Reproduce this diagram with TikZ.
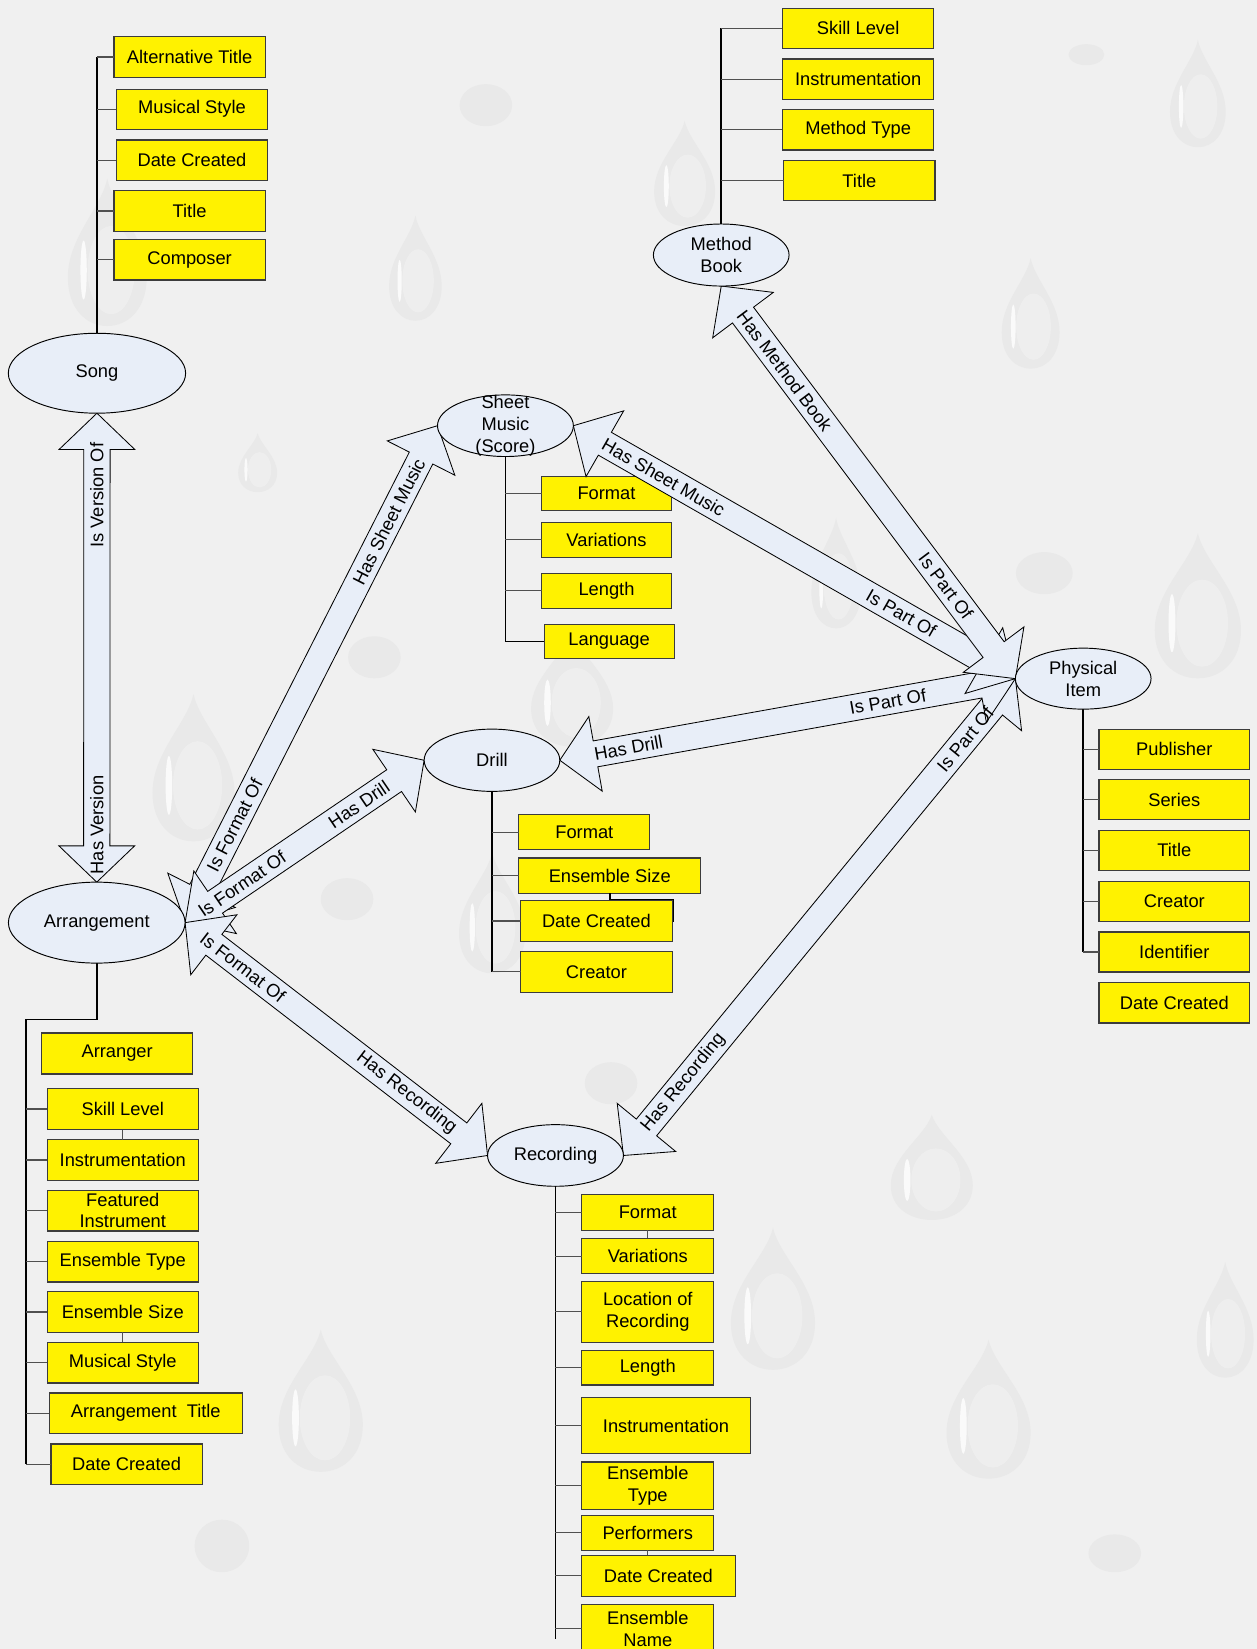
\documentclass[tikz,border=0pt]{standalone}
\usepackage{fontspec}
\setmainfont{Liberation Sans}
\usetikzlibrary{calc,shapes.geometric}
\definecolor{bg}{RGB}{240,240,240}
\definecolor{lblue}{RGB}{232,238,248}
\definecolor{dropc}{RGB}{233,233,233}
\definecolor{boxline}{RGB}{60,60,60}
\definecolor{tickc}{RGB}{80,80,80}
\pgfdeclarelayer{bgl}
\pgfdeclarelayer{back}
\pgfdeclarelayer{mid}
\pgfsetlayers{bgl,back,mid,main}
\tikzset{
  ybox/.style={draw=boxline, line width=1.1pt, fill=yellow, inner sep=0pt, outer sep=0pt, align=center, anchor=north west},
  ell/.style={ellipse, draw=black, line width=0.9pt, fill=lblue, inner sep=0pt, outer sep=0pt},
  trunk/.style={draw=black, line width=1.5pt},
  twig/.style={draw=tickc, line width=1.1pt},
  blockarrow/.style={draw=black, line width=0.8pt, fill=lblue, line join=miter},
  lbl/.style={inner sep=0pt},
  dropfill/.style={fill=dropc},
}
\newcommand\dblarrow[2]{%
  \coordinate (ta) at ($(#1)!34.5pt!(#2)$);
  \coordinate (tb) at ($(#2)!34.5pt!(#1)$);
  \draw[blockarrow] (#1) -- ($(ta)!36pt!90:(#2)$) -- ($(ta)!12.5pt!90:(#2)$)
    -- ($(tb)!12.5pt!-90:(#1)$) -- ($(tb)!36pt!-90:(#1)$) -- (#2)
    -- ($(tb)!36pt!90:(#1)$) -- ($(tb)!12.5pt!90:(#1)$)
    -- ($(ta)!12.5pt!-90:(#2)$) -- ($(ta)!36pt!-90:(#2)$) -- cycle;
}
\newcommand\drop[4]{%
  \begin{scope}[shift={(#1,#2)}, xscale=#3, yscale=#4]
    \fill[dropfill] (0,-0.5) .. controls (0.08,-0.3) and (0.5,-0.1) .. (0.5,0.17)
      .. controls (0.5,0.38) and (0.27,0.5) .. (0,0.5)
      .. controls (-0.27,0.5) and (-0.5,0.38) .. (-0.5,0.17)
      .. controls (-0.5,-0.1) and (-0.08,-0.3) .. (0,-0.5) -- cycle;
    \fill[white, opacity=0.25] (0.05,0.12) ellipse [x radius=0.3, y radius=0.3];
    \fill[white, opacity=0.8] (-0.3,0.12) ellipse [x radius=0.04, y radius=0.2];
  \end{scope}}
\newcommand\blob[4]{\fill[dropfill] (#1,#2) ellipse [x radius=#3, y radius=#4];}
\begin{document}
\begin{tikzpicture}[x=1pt, y=-1pt, font=\fontsize{17.4}{21}\selectfont]
\begin{pgfonlayer}{bgl}
\fill[bg] (0,0) rectangle (1195,1568);
\end{pgfonlayer}
\useasboundingbox (0,0) rectangle (1195,1568);

% ---------- ellipses (main layer) ----------
\node[ell, minimum width=168.6pt, minimum height=76pt, label=center:{Song}] (song) at (92.2,354.9) {};
\node[ell, minimum width=168pt, minimum height=77pt, label=center:{Arrangement}] (arr) at (92,877.3) {};
\node[ell, minimum width=129pt, minimum height=59pt, label={[align=center]center:{Method\\Book}}] (meth) at (685.8,242.5) {};
\node[ell, minimum width=129.2pt, minimum height=58.6pt, label={[align=center]center:{Sheet\\Music\\(Score)}}] (sheet) at (480.6,404.8) {};
\node[ell, minimum width=129pt, minimum height=59.2pt, label=center:{Drill}] (drill) at (467.8,722.9) {};
\node[ell, minimum width=129pt, minimum height=58pt, label={[align=center]center:{Physical\\Item}}] (phys) at (1030,645.3) {};
\node[ell, minimum width=129.2pt, minimum height=58.6pt, label=center:{Recording}] (rec) at (528.2,1098.7) {};

\begin{pgfonlayer}{back}
% ---------- droplets ----------
\drop{651}{165}{58}{100}
\drop{395}{255}{50}{100}
\drop{1139}{89}{53}{102}
\drop{980}{298}{55}{105}
\drop{1139}{576}{82}{138}
\drop{245}{440}{37}{56}
\drop{184}{730}{78}{140}
\drop{544}{655}{78}{110}
\drop{795}{545}{47}{105}
\drop{468}{868}{63}{115}
\drop{886}{1110}{78}{100}
\drop{735}{1235}{80}{135}
\drop{940}{1340}{80}{132}
\drop{305}{1332}{80}{135}
\drop{1165}{1255}{54}{110}
\drop{102}{240}{75}{140}
\blob{462}{100}{25}{20}
\blob{1033}{52}{17}{10}
\blob{993}{545}{27}{20}
\blob{356}{625}{25}{20}
\blob{330}{855}{25}{20}
\blob{581}{1030}{25}{20}
\blob{211}{1470}{26}{25}
\blob{1060}{1477}{25}{18}

% ---------- Song attributes ----------
\node[ybox, minimum width=143.8pt, minimum height=38.6pt] (sAlt) at (108.4,34.9) {Alternative Title};
\node[ybox, minimum width=143.9pt, minimum height=38pt] (sMus) at (110.6,84.9) {Musical Style};
\node[ybox, minimum width=143.9pt, minimum height=38.3pt] (sDate) at (110.6,133.1) {Date Created};
\node[ybox, minimum width=143.8pt, minimum height=38.6pt] (sTitle) at (108.4,181.3) {Title};
\node[ybox, minimum width=143.8pt, minimum height=38.3pt] (sComp) at (108.4,227.9) {Composer};
\draw[trunk] (sAlt.west -| song.north) -- (song.north);
\foreach \n in {sAlt,sMus,sDate,sTitle,sComp} \draw[twig] (\n.west) -- (\n.west -| song.north);

% ---------- Method Book attributes ----------
\node[ybox, minimum width=144pt, minimum height=38pt] (mSkill) at (744,7.9) {Skill Level};
\node[ybox, minimum width=144pt, minimum height=38.3pt] (mInst) at (744,56.1) {Instrumentation};
\node[ybox, minimum width=144pt, minimum height=38.7pt] (mType) at (744,103.9) {Method Type};
\node[ybox, minimum width=143.8pt, minimum height=38.6pt] (mTitle) at (745.3,152.4) {Title};
\draw[trunk] (mSkill.west -| meth.north) -- (meth.north);
\foreach \n in {mSkill,mInst,mType,mTitle} \draw[twig] (\n.west) -- (\n.west -| meth.north);

% ---------- Sheet Music attributes ----------
\node[ybox, minimum width=123.6pt, minimum height=32.6pt] (shFormat) at (514.9,453.1) {Format};
\node[ybox, minimum width=123.6pt, minimum height=33pt] (shVar) at (514.9,496.8) {Variations};
\node[ybox, minimum width=123.6pt, minimum height=33.3pt] (shLen) at (514.9,545) {Length};
\node[ybox, minimum width=123.6pt, minimum height=32.9pt] (shLang) at (517.4,593.5) {Language};
\draw[trunk] (sheet.south) |- (shLang.west);
\foreach \n in {shFormat,shVar,shLen} \draw[twig] (\n.west) -- (\n.west -| sheet.south);

% ---------- Drill attributes ----------
\node[ybox, minimum width=124.6pt, minimum height=33.3pt] (dFormat) at (493.3,774.7) {Format};
\node[ybox, minimum width=173.1pt, minimum height=33.3pt] (dEns) at (493.3,815.9) {Ensemble Size};
\node[ybox, minimum width=144.3pt, minimum height=38.6pt] (dDate) at (495,856.5) {Date Created};
\node[ybox, minimum width=144.3pt, minimum height=39pt] (dCreator) at (495,904.6) {Creator};
\draw[draw=black, line width=1.1pt] (580,849.2) -- (580,855.6) -- (640.8,855.6) -- (640.8,876.5);
\draw[trunk] (drill.south) -- (drill.south |- dCreator.west);
\foreach \n in {dFormat,dEns,dDate,dCreator} \draw[twig] (\n.west) -- (\n.west -| drill.south);

% ---------- Physical Item attributes ----------
\node[ybox, minimum width=143.2pt, minimum height=38pt] (pPub) at (1045,693.3) {Publisher};
\node[ybox, minimum width=143.2pt, minimum height=38pt] (pSeries) at (1045,741.5) {Series};
\node[ybox, minimum width=143.2pt, minimum height=38pt] (pTitle) at (1045,789.6) {Title};
\node[ybox, minimum width=143.2pt, minimum height=38pt] (pCreator) at (1045,838) {Creator};
\node[ybox, minimum width=143.2pt, minimum height=38pt] (pId) at (1045,886.2) {Identifier};
\node[ybox, minimum width=143.2pt, minimum height=38.7pt] (pDate) at (1045,934.1) {Date Created};
\draw[trunk] (phys.south) -- (phys.south |- pId.west);
\foreach \n in {pPub,pSeries,pTitle,pCreator,pId} \draw[twig] (\n.west) -- (\n.west -| phys.south);

% ---------- Arrangement attributes ----------
\node[ybox, minimum width=143.6pt, minimum height=39pt] (aArr) at (39.6,982.2) {Arranger};
\node[ybox, minimum width=143.5pt, minimum height=39.3pt] (aSkill) at (45,1034.9) {Skill Level};
\node[ybox, minimum width=143.5pt, minimum height=38.6pt] (aInst) at (45,1083.7) {Instrumentation};
\node[ybox, minimum width=143.5pt, minimum height=38.7pt, font=\fontsize{17.4}{19.5}\selectfont] (aFeat) at (45,1131.8) {Featured\\Instrument};
\node[ybox, minimum width=143.5pt, minimum height=38.7pt] (aEType) at (45,1180.3) {Ensemble Type};
\node[ybox, minimum width=143.5pt, minimum height=38.4pt] (aESize) at (45,1228.4) {Ensemble Size};
\node[ybox, minimum width=143.5pt, minimum height=38.7pt] (aStyle) at (45,1276.3) {Musical Style};
\node[ybox, minimum width=183.4pt, minimum height=38.6pt] (aTitle) at (46.9,1324.5) {Arrangement\ \ Title};
\node[ybox, minimum width=143.8pt, minimum height=38.6pt] (aDate) at (48.5,1373) {Date Created};
\coordinate (aTrunk) at (24.7,969.6);
\draw[trunk] (arr.south) |- (aTrunk) -- (aTrunk |- aDate.west);
\foreach \n in {aSkill,aInst,aFeat,aEType,aESize,aStyle,aTitle,aDate} \draw[twig] (\n.west) -- (\n.west -| aTrunk);
\draw[twig] (aSkill.south) -- (aInst.north);
\draw[twig] (aESize.south) -- (aStyle.north);

% ---------- Recording attributes ----------
\node[ybox, minimum width=125.7pt, minimum height=33.8pt] (rFormat) at (553.1,1136.1) {Format};
\node[ybox, minimum width=125.7pt, minimum height=33.6pt] (rVar) at (553.1,1177.6) {Variations};
\node[ybox, minimum width=125.7pt, minimum height=57.7pt] (rLoc) at (553.1,1218.6) {Location of\\Recording};
\node[ybox, minimum width=125.7pt, minimum height=32.7pt] (rLen) at (553.1,1284.3) {Length};
\node[ybox, minimum width=160.4pt, minimum height=52.9pt] (rInst) at (553.1,1329.2) {Instrumentation};
\node[ybox, minimum width=125.7pt, minimum height=45.6pt] (rEType) at (553.1,1390.1) {Ensemble\\Type};
\node[ybox, minimum width=125.7pt, minimum height=33.3pt] (rPerf) at (553.1,1440.8) {Performers};
\node[ybox, minimum width=145.9pt, minimum height=38.8pt] (rDate) at (553.1,1479) {Date Created};
\node[ybox, minimum width=125.7pt, minimum height=46pt] (rEName) at (553.1,1525.5) {Ensemble\\Name};
\coordinate (recEnd) at (528.2,1558.6);
\draw[trunk] (rec.south) -- (recEnd);
\foreach \n in {rFormat,rVar,rLoc,rLen,rInst,rEType,rPerf,rDate,rEName} \draw[twig] (\n.west) -- (\n.west -| rec.south);
\draw[twig] (rFormat.south) -- (rVar.north);
\draw[twig] (rPerf.south) -- (rPerf.south |- rDate.north);
\end{pgfonlayer}

% ---------- block arrows ----------
\begin{pgfonlayer}{mid}
\dblarrow{song.south}{arr.north}
\dblarrow{arr.east}{sheet.west}
\dblarrow{arr.east}{drill.west}
\dblarrow{arr.east}{rec.west}
\dblarrow{rec.east}{phys.west}
\dblarrow{drill.east}{phys.west}
\dblarrow{sheet.east}{phys.west}
\dblarrow{meth.south}{phys.west}

\path (arr.north) -- (song.south)
  node[lbl, pos=0.122, rotate=90] {Has Version}
  node[lbl, pos=0.825, rotate=90] {Is Version Of};
\path (arr.east) -- (sheet.west)
  node[lbl, sloped, pos=0.196] {Is Format Of}
  node[lbl, sloped, pos=0.807] {Has Sheet Music};
\path (arr.east) -- (drill.west)
  node[lbl, sloped, pos=0.238] {Is Format Of}
  node[lbl, sloped, pos=0.727] {Has Drill};
\path (arr.east) -- (rec.west)
  node[lbl, sloped, pos=0.191] {Is Format Of}
  node[lbl, sloped, pos=0.732] {Has Recording};
\path (rec.east) -- (phys.west)
  node[lbl, sloped, pos=0.153] {Has Recording}
  node[lbl, sloped, pos=0.872] {Is Part Of};
\path (drill.east) -- (phys.west)
  node[lbl, sloped, pos=0.151] {Has Drill}
  node[lbl, sloped, pos=0.72] {Is Part Of};
\path (sheet.east) -- (phys.west)
  node[lbl, sloped, pos=0.204] {Has Sheet Music}
  node[lbl, sloped, pos=0.742] {Is Part Of};
\path (meth.south) -- (phys.west)
  node[lbl, sloped, pos=0.216] {Has Method Book}
  node[lbl, sloped, pos=0.764] {Is Part Of};
\end{pgfonlayer}
\end{tikzpicture}
\end{document}
